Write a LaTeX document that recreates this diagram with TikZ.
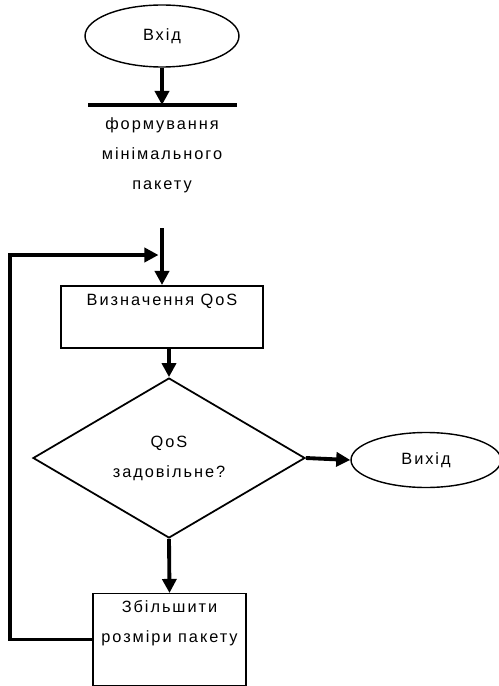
\documentclass[tikz,border=0pt]{standalone}
\usepackage{fontspec}
\setmainfont{Liberation Sans}[LetterSpace=12]
\usetikzlibrary{shapes.geometric,arrows.meta}

\tikzset{
  term/.style={ellipse, draw, line width=0.8pt, inner sep=0pt},
  proc/.style={rectangle, draw, line width=1pt, inner sep=0pt, anchor=north},
  cond/.style={diamond, draw, line width=1pt, aspect=1.7, inner sep=0pt},
  flow/.style={line width=2.2pt, -{Triangle[length=8pt,width=8pt]}},
}

\begin{document}
\begin{tikzpicture}[x=0.02cm, y=-0.02cm, font=\fontsize{9.3pt}{17pt}\selectfont]
  \useasboundingbox (0,0) rectangle (499,686);

  % start and first step
  \node[term, minimum width=3.08cm, minimum height=1.24cm] (start) at (162,36) {Вхід};
  \coordinate (formtop) at (162,105);
  \draw[line width=2pt] (88,105) -- (237,105);
  \node[align=center] (form) at (162,155) {формування\\мінімального\\пакету};
  \draw[flow] (start) -- (formtop);

  % loop body
  \coordinate (split) at (162,228);
  \coordinate (join) at (162,255);
  \coordinate (corner) at (10,255);
  \node[proc, minimum width=4.04cm, text height=0.4cm, text depth=0.84cm] (qos) at (162,285) {Визначення QoS};
  \node[cond, minimum width=5.44cm, minimum height=3.2cm, align=center] (check) at (169,458) {QoS\\задовільне?};
  \node[term, minimum width=3cm, minimum height=1.1cm] (exit) at (426,460) {Вихід};
  \node[proc, line width=0.6pt, minimum width=3.06cm, align=center, text height=0.98cm, text depth=0.86cm] (inc) at (169.5,593) {Збільшити\\розміри пакету};

  \draw[flow] (split) -- (qos.north);
  \draw[flow] (qos.south -| check.north) -- (check.north);
  \draw[flow] (check.east) -- (exit.west);
  \draw[flow] (check.south) -- (inc.north);
  \draw[flow, shorten >=2pt] (inc.west) -| (corner) -- (join);
\end{tikzpicture}
\end{document}
